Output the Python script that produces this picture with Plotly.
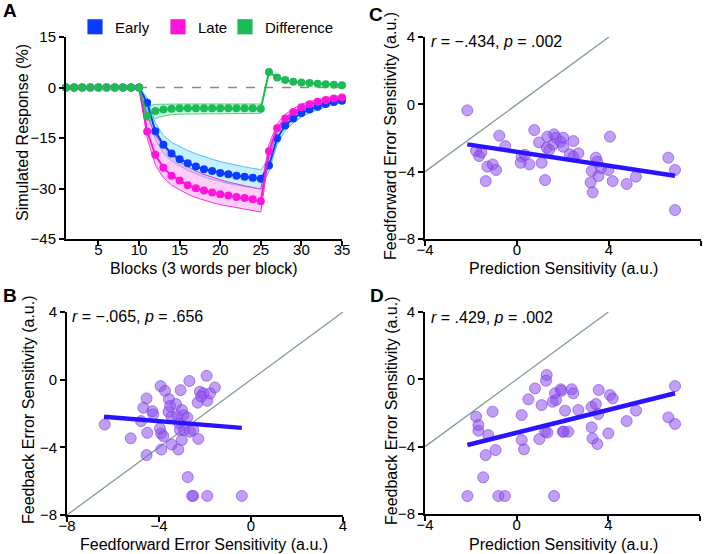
import plotly.graph_objects as go

W, H = 704, 554
FONT = "Liberation Sans, Arial, Helvetica, sans-serif"

# ---------------- Panel A data ----------------
blocks = list(range(1, 36))
early = [0]*10 + [-4.5, -13.0, -17.0, -19.6, -21.3, -22.5, -23.5, -24.3, -24.8, -25.4,
                  -25.8, -26.2, -26.5, -26.8, -27.1,
                  -23.2, -15.1, -11.3, -9.2, -7.6, -6.5, -5.7, -4.9, -4.3, -3.9]
late = [0]*10 + [-13.1, -20.0, -23.8, -26.2, -27.6, -29.0, -29.9, -30.6, -31.2, -31.7,
                 -32.1, -32.5, -32.8, -33.2, -33.8,
                 -18.9, -12.1, -9.2, -7.3, -5.9, -5.0, -4.2, -3.7, -3.3, -3.0]
diff = [0]*10 + [-8.5, -7.0, -6.5, -6.3, -6.2, -6.2, -6.2, -6.2, -6.2, -6.2,
                 -6.2, -6.2, -6.2, -6.2, -6.3,
                 4.6, 3.0, 2.2, 1.7, 1.5, 1.3, 1.1, 1.0, 0.8, 0.7]

band_blocks = list(range(10, 36))
early_upper = [0, -3.0, -10.5, -14.2, -16.3, -17.6, -18.7, -19.7, -20.6, -21.3, -22.0,
               -22.6, -23.1, -23.6, -24.0, -24.4,
               -21.0, -13.5, -10.0, -8.0, -6.6, -5.6, -4.9, -4.2, -3.7, -3.3]
early_lower = [0, -6.5, -15.5, -19.5, -21.8, -23.3, -24.6, -25.7, -26.6, -27.3, -28.0,
               -28.5, -29.0, -29.4, -29.8, -30.1,
               -25.0, -17.0, -12.8, -10.5, -8.8, -7.5, -6.6, -5.7, -5.0, -4.6]
late_upper = [0, -8.5, -14.0, -17.5, -20.0, -22.0, -23.5, -24.8, -25.8, -26.7, -27.4,
              -28.1, -28.7, -29.2, -29.7, -30.2,
              -17.0, -10.8, -8.0, -6.3, -5.0, -4.2, -3.5, -3.0, -2.7, -2.4]
late_lower = [0, -15.0, -23.0, -26.8, -29.0, -30.4, -31.7, -32.7, -33.5, -34.2, -34.8,
              -35.3, -35.8, -36.2, -36.6, -37.0,
              -20.5, -13.4, -10.4, -8.3, -6.8, -5.8, -5.0, -4.4, -3.9, -3.6]
diff_band_blocks = list(range(10, 26))
diff_upper = [0, -5.6, -5.0, -4.9, -4.9, -4.9, -4.9, -4.9, -4.9, -4.9, -4.9,
              -4.9, -4.9, -4.9, -4.9, -4.9]
diff_lower = [0, -10.0, -9.2, -8.5, -8.1, -7.9, -7.8, -7.7, -7.7, -7.7, -7.7,
              -7.7, -7.7, -7.7, -7.7, -7.7]

# ---------------- Panel B data ----------------
b_ff = [-6.36, -5.23, -4.54, -4.51, -4.78, -4.68, -4.54, -4.29, -4.25, -3.93, -3.74, -3.90,
        -3.91, -3.81, -3.96, -3.57, -3.52, -3.59, -3.45, -3.26, -3.20, -3.45, -3.16, -3.06,
        -2.68, -3.00, -2.94, -2.77, -3.12, -3.09, -2.91, -3.01, -2.65, -2.51, -2.29, -2.32,
        -2.22, -2.07, -1.93, -1.90, -1.78, -1.57, -2.17, -2.75, -2.51, -2.56, -1.90, -0.40]
b_fb = [-2.65, -3.47, -4.46, -3.14, -2.45, -1.66, -1.11, -1.86, -2.05, -0.38, -0.66, -4.13,
        -3.18, -3.34, -2.88, -1.15, -1.56, -1.90, -2.19, -1.44, -2.15, -3.83, -4.13, -0.62,
        -0.08, -1.80, -2.10, -2.23, -2.59, -2.98, -2.98, -3.57, -3.08, -2.98, -3.50, -1.36,
        -0.71, -0.81, 0.23, -1.25, -0.81, -0.46, -1.00, -5.76, -6.87, -6.87, -6.87, -6.87]
b_fit_x = [-6.39, -0.40]
b_fit_y = [-2.19, -2.85]
b_id = [-8, 4]

# ---------------- Panel C data ----------------
c_pred = [-2.16, -1.78, -1.65, -1.55, -1.29, -1.06, -0.91, -1.36, -0.77, -0.51, 0.20, 0.16,
          0.54, 0.35, 0.75, 0.96, 1.07, 1.22, 1.32, 1.29, 1.40, 1.61, 1.70, 1.58, 1.90, 2.01,
          2.45, 2.01, 2.30, 2.67, 4.04, 3.43, 3.49, 3.25, 3.54, 3.20, 3.29, 3.97, 4.16, 4.77,
          5.17, 6.58, 6.87, 6.87, 3.65, 2.45]
c_ff = [-0.36, -2.77, -3.07, -2.85, -3.70, -3.57, -3.90, -4.56, -1.86, -2.48, -3.11, -3.47,
        -3.57, -3.00, -1.53, -2.26, -3.47, -4.50, -1.92, -2.58, -2.70, -1.78, -1.98, -2.38,
        -2.22, -2.52, -2.18, -1.98, -2.97, -2.91, -1.92, -3.17, -3.41, -3.96, -4.26, -4.64,
        -5.23, -3.90, -4.56, -4.73, -4.30, -3.17, -3.90, -6.28, -3.78, -3.10]
c_fit_x = [-2.16, 6.87]
c_fit_y = [-2.38, -4.24]
cd_id = [-4, 4]

# ---------------- Panel D data ----------------
d_pred = [-2.15, -1.46, -1.35, -0.92, -1.24, -1.67, -1.67, -1.77, -1.05, -0.80, -0.51, 0.22,
          0.22, 0.32, 0.51, 0.80, 1.09, 0.99, 1.31, 1.28, 1.24, 1.34, 1.67, 1.57, 1.72, 1.92,
          2.01, 1.63, 2.11, 2.40, 2.47, 1.96, 2.69, 2.06, 2.25, 3.27, 3.46, 3.56, 3.27, 3.31,
          3.52, 3.58, 4.07, 4.19, 4.00, 5.21, 4.80, 6.62, 6.91, 6.91]
d_fb = [-6.93, -5.82, -4.50, -4.20, -3.31, -3.05, -2.71, -2.22, -1.92, -6.93, -6.93, -2.12,
        -3.61, -4.16, -1.19, -0.54, -1.53, -3.55, 0.26, -0.08, -3.11, -3.17, -0.83, -1.33,
        -1.23, -0.59, -3.11, -6.93, -1.86, -0.59, -0.83, -0.68, -1.82, -3.11, -3.11, -1.63,
        -1.47, -2.06, -2.85, -3.51, -3.84, -0.63, -0.93, -1.13, -3.21, -1.86, -2.48, -2.26,
        -2.65, -0.40]
d_fit_x = [-2.15, 6.91]
d_fit_y = [-3.90, -0.83]

# ---------------- helpers ----------------
def px_x(px):
    return px / W

def px_y(py):
    return 1 - py / H

BLUE = "#0a3cff"
PINK = "#ff14dc"
GREEN = "#1dbb55"
PT_FILL = "rgba(140, 80, 235, 0.55)"
PT_LINE = "rgba(120, 60, 230, 0.75)"
FIT = "#2a14ff"
IDC = "#7f9c90"

fig = go.Figure()

def band(xs, up, lo, fillc, linec, xa, ya):
    fig.add_trace(go.Scatter(
        x=xs + xs[::-1], y=up + lo[::-1], fill="toself", fillcolor=fillc,
        mode="lines", line=dict(color=linec, width=1), showlegend=False,
        hoverinfo="skip", xaxis=xa, yaxis=ya))

fig.add_trace(go.Scatter(x=[blocks[0], blocks[-1]], y=[0, 0], mode="lines",
                         line=dict(color="#8a8a8a", width=1.5, dash="dash"),
                         showlegend=False, xaxis="x", yaxis="y"))
band(diff_band_blocks, diff_upper, diff_lower, "rgba(120,235,170,0.40)", "rgba(40,200,110,0.8)", "x", "y")
band(band_blocks, early_upper, early_lower, "rgba(140,225,255,0.50)", "rgba(60,190,240,0.9)", "x", "y")
band(band_blocks, late_upper, late_lower, "rgba(255,130,235,0.40)", "rgba(235,40,210,0.9)", "x", "y")

for ys, col in [(early, BLUE), (late, PINK), (diff, GREEN)]:
    fig.add_trace(go.Scatter(x=blocks, y=ys, mode="lines+markers",
                             line=dict(color=col, width=2),
                             marker=dict(color=col, size=8),
                             cliponaxis=False, showlegend=False,
                             xaxis="x", yaxis="y"))

# legend entries
for name, col, lw in [("Early", BLUE, 38), ("Late", PINK, 22), ("Difference", GREEN, 75)]:
    fig.add_trace(go.Scatter(x=[None], y=[None], mode="markers", name=name,
                             legendwidth=lw,
                             marker=dict(color=col, symbol="square", size=15,
                                         line=dict(color="rgba(0,0,0,0.15)", width=0.5)),
                             xaxis="x", yaxis="y"))

def scat_panel(xs, ys, fx, fy, idl, xa, ya):
    fig.add_trace(go.Scatter(x=idl, y=idl, mode="lines", line=dict(color=IDC, width=1.3),
                             showlegend=False, xaxis=xa, yaxis=ya))
    fig.add_trace(go.Scatter(x=xs, y=ys, mode="markers",
                             marker=dict(color=PT_FILL, size=11, line=dict(color=PT_LINE, width=0.8)),
                             cliponaxis=False, showlegend=False, xaxis=xa, yaxis=ya))
    fig.add_trace(go.Scatter(x=fx, y=fy, mode="lines", line=dict(color=FIT, width=4.5),
                             showlegend=False, xaxis=xa, yaxis=ya))

scat_panel(b_ff, b_fb, b_fit_x, b_fit_y, b_id, "x2", "y2")
scat_panel(c_pred, c_ff, c_fit_x, c_fit_y, cd_id, "x3", "y3")
scat_panel(d_pred, d_fb, d_fit_x, d_fit_y, cd_id, "x4", "y4")

axis_common = dict(showline=True, linecolor="black", linewidth=2, ticks="outside",
                   ticklen=5, tickwidth=1.5, tickcolor="black", showgrid=False,
                   zeroline=False, automargin=False,
                   tickfont=dict(size=15, color="black", family=FONT))
xaxis_extra = dict(ticklabelstandoff=-9)

fig.update_layout(
    width=W, height=H, margin=dict(l=0, r=0, t=0, b=0, pad=0, autoexpand=False),
    paper_bgcolor="white", plot_bgcolor="white",
    font=dict(family=FONT, size=15, color="black"),
    showlegend=True,
    legend=dict(orientation="h", x=px_x(75), y=px_y(27), xanchor="left", yanchor="middle",
                font=dict(size=15, family=FONT), bgcolor="rgba(0,0,0,0)", itemclick=False,
                borderwidth=0),
    xaxis=dict(domain=[px_x(66), px_x(342)], range=[1, 35], tickvals=[5, 10, 15, 20, 25, 30, 35],
               anchor="y", **axis_common, **xaxis_extra),
    yaxis=dict(domain=[px_y(239), px_y(37)], range=[-45, 15], tickvals=[-45, -30, -15, 0, 15],
               anchor="x", **axis_common),
    xaxis2=dict(domain=[px_x(67), px_x(343)], range=[-8, 4], tickvals=[-8, -4, 0, 4],
                anchor="y2", **axis_common, **xaxis_extra),
    yaxis2=dict(domain=[px_y(515), px_y(312)], range=[-8, 4], tickvals=[-8, -4, 0, 4],
                anchor="x2", **axis_common),
    xaxis3=dict(domain=[px_x(425), px_x(701)], range=[-4, 8], tickvals=[-4, 0, 4, 8],
                anchor="y3", **axis_common, **xaxis_extra),
    yaxis3=dict(domain=[px_y(239), px_y(37)], range=[-8, 4], tickvals=[-8, -4, 0, 4],
                anchor="x3", **axis_common),
    xaxis4=dict(domain=[px_x(425), px_x(700)], range=[-4, 8], tickvals=[-4, 0, 4, 8],
                anchor="y4", **axis_common, **xaxis_extra),
    yaxis4=dict(domain=[px_y(514), px_y(312)], range=[-8, 4], tickvals=[-8, -4, 0, 4],
                anchor="x4", **axis_common),
)

ann = []
def text(x, y, s, size=16, angle=0, xanchor="center"):
    ann.append(dict(x=px_x(x), y=px_y(y), xref="paper", yref="paper", text=s,
                    showarrow=False, textangle=angle, xanchor=xanchor, yanchor="middle",
                    font=dict(size=size, family=FONT, color="black")))

text(10, 10, "<b>A</b>", size=19)
text(10, 295, "<b>B</b>", size=19)
text(376, 14, "<b>C</b>", size=19)
text(377, 295, "<b>D</b>", size=19)

text(23, 133, "Simulated Response (%)", angle=-90)
text(204, 268, "Blocks (3 words per block)")
text(28, 410, "Feedback Error Sensitivity (a.u.)", angle=-90)
text(204, 544, "Feedforward Error Sensitivity (a.u.)")
text(391, 136, "Feedforward Error Sensitivity (a.u.)", angle=-90)
text(563, 268, "Prediction Sensitivity (a.u.)")
text(391, 411, "Feedback Error Sensitivity (a.u.)", angle=-90)
text(563, 544, "Prediction Sensitivity (a.u.)")

text(70, 316, "<i>r</i> = −.065, <i>p</i> = .656", xanchor="left")
text(429, 42, "<i>r</i> = −.434, <i>p</i> = .002", xanchor="left")
text(429, 317, "<i>r</i> = .429, <i>p</i> = .002", xanchor="left")

fig.update_layout(annotations=ann)
fig.write_html("out.html", config={"displayModeBar": False},
               post_script="document.body.style.margin='0px';")
